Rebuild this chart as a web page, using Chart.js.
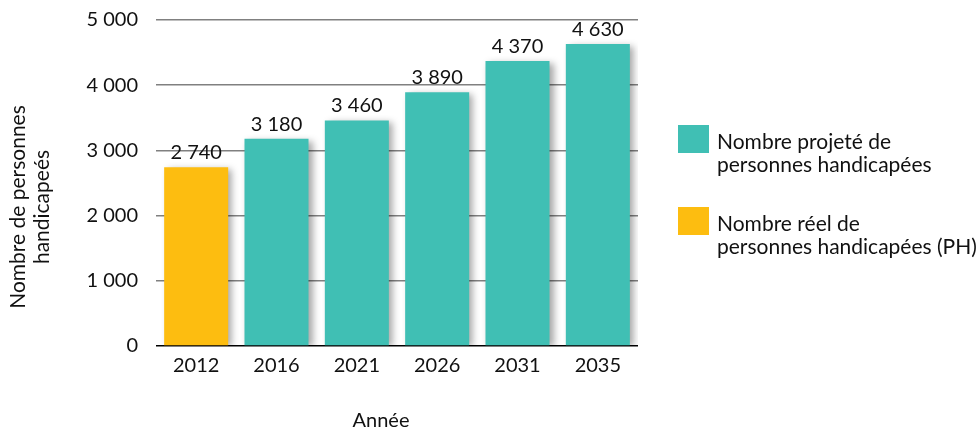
<!DOCTYPE html>
<html>
<head>
<meta charset="utf-8">
<script src="https://cdn.jsdelivr.net/npm/chart.js@4"></script>
<style>
  html, body { margin: 0; padding: 0; background: #ffffff; }
  #wrap { position: relative; width: 979px; height: 429px; }
</style>
</head>
<body>
<div id="wrap"><canvas id="c" width="979" height="429"></canvas></div>
<script>
const categories = ["2012", "2016", "2021", "2026", "2031", "2035"];
const realValues = [2740, null, null, null, null, null];
const projectedValues = [null, 3180, 3460, 3890, 4370, 4630];
const yTickValues = [0, 1000, 2000, 3000, 4000, 5000];
const realLabel = ["Nombre réel de", "personnes handicapées (PH)"];
const projectedLabel = ["Nombre projeté de", "personnes handicapées"];
const yTitle = ["Nombre de personnes", "handicapeés"];
const xTitle = "Année";

const FONT = "Lato";
const TEAL = "#40BFB4";
const YELLOW = "#FDBD10";
const TEXT = "#111111";

function fmt(v) {
  return String(v).replace(/\B(?=(\d{3})+(?!\d))/g, " ");
}

const shadowPlugin = {
  id: "barShadow",
  beforeDatasetsDraw(chart) {
    const ctx = chart.ctx;
    ctx.save();
    ctx.shadowColor = "rgba(0,0,0,0.35)";
    ctx.shadowBlur = 7;
    ctx.shadowOffsetX = 4;
    ctx.shadowOffsetY = 2;
  },
  afterDatasetsDraw(chart) {
    chart.ctx.restore();
    const ctx = chart.ctx;
    ctx.save();
    ctx.font = "20px " + FONT;
    ctx.fillStyle = TEXT;
    ctx.textAlign = "center";
    ctx.textBaseline = "alphabetic";
    chart.data.datasets.forEach((ds, di) => {
      const meta = chart.getDatasetMeta(di);
      meta.data.forEach((bar, i) => {
        const v = ds.data[i];
        if (v === null || v === undefined) return;
        ctx.fillText(fmt(v), bar.x, bar.y - 8);
      });
    });
    ctx.restore();
  }
};

const titlesPlugin = {
  id: "titlesLegend",
  afterDraw(chart) {
    const ctx = chart.ctx;
    ctx.save();
    ctx.fillStyle = TEXT;
    ctx.font = "21px " + FONT;
    ctx.save();
    ctx.translate(30, 207);
    ctx.rotate(-Math.PI / 2);
    ctx.textAlign = "center";
    ctx.textBaseline = "middle";
    ctx.fillText(yTitle[0], 0, -12);
    ctx.fillText(yTitle[1], 0, 12);
    ctx.restore();
    ctx.font = "20px " + FONT;
    ctx.textAlign = "center";
    ctx.textBaseline = "alphabetic";
    ctx.fillText(xTitle, 381, 427);
    ctx.font = "21px " + FONT;
    const items = [
      { color: TEAL, lines: projectedLabel, top: 125, base: 149 },
      { color: YELLOW, lines: realLabel, top: 207, base: 231 }
    ];
    ctx.textAlign = "left";
    items.forEach(it => {
      ctx.fillStyle = it.color;
      ctx.fillRect(678, it.top, 31, 28);
      ctx.fillStyle = TEXT;
      it.lines.forEach((l, k) => ctx.fillText(l, 717, it.base + k * 23));
    });
    ctx.restore();
  }
};

new Chart(document.getElementById("c"), {
  type: "bar",
  data: {
    labels: categories,
    datasets: [
      { label: realLabel.join(" "), data: realValues, backgroundColor: YELLOW, borderWidth: 0 },
      { label: projectedLabel.join(" "), data: projectedValues, backgroundColor: TEAL, borderWidth: 0 }
    ]
  },
  options: {
    responsive: false,
    animation: false,
    events: [],
    layout: { autoPadding: false, padding: { top: 20, right: 341, left: 0, bottom: 0 } },
    datasets: { bar: { categoryPercentage: 1.0, barPercentage: 0.797 } },
    plugins: {
      legend: { display: false },
      tooltip: { enabled: false }
    },
    scales: {
      x: {
        stacked: true,
        grid: { display: false, drawTicks: false },
        border: { display: false },
        ticks: { color: TEXT, font: { family: FONT, size: 20 }, padding: 8, maxRotation: 0 },
        afterFit(scale) { scale.height = 83; scale.paddingLeft = 0; scale.paddingRight = 0; }
      },
      y: {
        stacked: true,
        min: 0,
        max: 5000,
        afterBuildTicks(scale) { scale.ticks = yTickValues.map(v => ({ value: v })); },
        grid: {
          drawTicks: false,
          color: c => (c.tick && c.tick.value === 0) ? "#000000" : "#808080",
          lineWidth: 1.5
        },
        border: { display: false },
        ticks: {
          color: TEXT,
          font: { family: FONT, size: 20 },
          padding: 18,
          callback: v => fmt(v)
        },
        afterFit(scale) { scale.width = 156; scale.paddingTop = 0; scale.paddingBottom = 0; }
      }
    }
  },
  plugins: [shadowPlugin, titlesPlugin]
});
</script>
</body>
</html>
